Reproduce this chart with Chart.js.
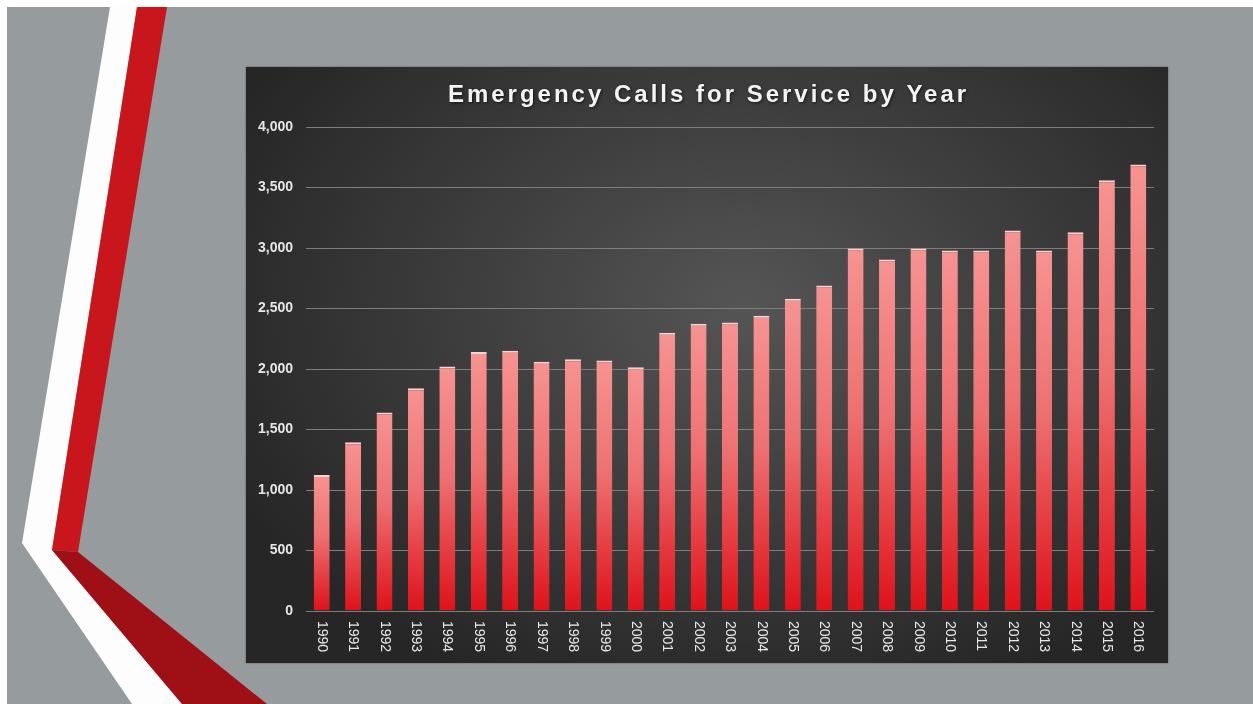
<!DOCTYPE html>
<html>
<head>
<meta charset="utf-8">
<script src="https://cdn.jsdelivr.net/npm/chart.js@4.4.1/dist/chart.umd.min.js"></script>
<style>
  html, body { margin:0; padding:0; background:#ffffff; width:1253px; height:704px; overflow:hidden; }
  #slide { position:absolute; left:7px; top:7px; width:1246px; height:697px; background:#969b9e; }
  #deco { position:absolute; left:0; top:0; }
  #box { position:absolute; left:246px; top:67px; width:922px; height:596px;
         background: radial-gradient(ellipse 62% 70% at 54% 40%, #555555 0%, #3d3d3d 50%, #262626 100%);
         box-shadow: 0 0 2px rgba(0,0,0,0.4); }
  canvas { display:block; }
</style>
</head>
<body>
<div id="slide"></div>
<svg id="deco" width="1253" height="704" viewBox="0 0 1253 704">
  <polygon points="110,7 137,7 52,550 182,704 132,704 22,543" fill="#fdfdfd"/>
  <polygon points="137,7 167,7 78,552 52,550" fill="#c8161c"/>
  <polygon points="52,550 78,552 267,704 182,704" fill="#9e1015"/>
</svg>
<div id="box"><canvas id="c" width="922" height="596"></canvas></div>
<script>
const titleText = 'Emergency Calls for Service by Year';
const years = ['1990','1991','1992','1993','1994','1995','1996','1997','1998','1999','2000',
               '2001','2002','2003','2004','2005','2006','2007','2008','2009','2010',
               '2011','2012','2013','2014','2015','2016'];
const calls = [1125,1395,1640,1840,2020,2140,2150,2060,2080,2070,2015,
               2300,2375,2385,2440,2580,2690,2995,2905,2995,2980,
               2980,3145,2980,3130,3560,3690];
const yMin = 0, yMax = 4000, yStep = 500;

const FONT = "'Liberation Sans', Arial, sans-serif";

const customText = {
  id: 'customText',
  afterDraw(chart) {
    const ctx = chart.ctx;
    // title
    ctx.save();
    ctx.font = 'bold 24px ' + FONT;
    ctx.fillStyle = '#f4f4f4';
    ctx.textAlign = 'center';
    ctx.textBaseline = 'middle';
    try { ctx.letterSpacing = '3px'; } catch(e) {}
    ctx.shadowColor = 'rgba(0,0,0,0.6)';
    ctx.shadowBlur = 3;
    ctx.shadowOffsetX = 1; ctx.shadowOffsetY = 1;
    ctx.fillText(titleText, chart.width / 2 + 1.5, 28);
    ctx.restore();
    // x labels rotated clockwise
    const xs = chart.scales.x;
    const top = chart.chartArea.bottom + 10;
    ctx.save();
    ctx.font = '14px ' + FONT;
    ctx.fillStyle = '#e8e8e8';
    ctx.textAlign = 'left';
    ctx.textBaseline = 'middle';
    years.forEach((lab, i) => {
      const x = xs.getPixelForTick(i);
      ctx.save();
      ctx.translate(x, top);
      ctx.rotate(Math.PI / 2);
      ctx.fillText(lab, 0, 0);
      ctx.restore();
    });
    ctx.restore();
  }
};

function barFill(c) {
  const chart = c.chart;
  if (!chart.chartArea || !chart.scales.y) return '#ea5050';
  const y = chart.scales.y;
  const t = y.getPixelForValue(c.raw);
  const b = y.getPixelForValue(0);
  const g = chart.ctx.createLinearGradient(0, t, 0, b);
  g.addColorStop(0, '#f69391');
  g.addColorStop(0.45, '#ee7071');
  g.addColorStop(1, '#df121a');
  return g;
}

new Chart(document.getElementById('c'), {
  type: 'bar',
  data: {
    labels: years,
    datasets: [{
      label: 'Emergency Calls',
      data: calls,
      backgroundColor: barFill,
      borderColor: '#fbd2d0',
      borderWidth: { top: 2, left: 0, right: 0, bottom: 0 },
      borderSkipped: false,
      barPercentage: 0.51,
      categoryPercentage: 1.0
    }]
  },
  options: {
    responsive: false,
    animation: false,
    layout: { padding: { top: 60, right: 14, left: 0, bottom: 0 } },
    plugins: { legend: { display: false }, title: { display: false }, tooltip: { enabled: false } },
    scales: {
      x: {
        grid: { display: false, drawTicks: false },
        border: { display: false },
        ticks: { display: false },
        afterFit(s) { s.height = 52; }
      },
      y: {
        min: yMin, max: yMax,
        grid: { color: '#7e7e7e', lineWidth: 1, drawTicks: false },
        border: { display: false },
        ticks: {
          stepSize: yStep,
          padding: 13,
          color: '#e6e6e6',
          font: { family: FONT, size: 14, weight: 'bold' },
          callback: v => Number(v).toLocaleString('en-US')
        },
        afterFit(s) { s.width = 60; }
      }
    }
  },
  plugins: [customText]
});
</script>
</body>
</html>
